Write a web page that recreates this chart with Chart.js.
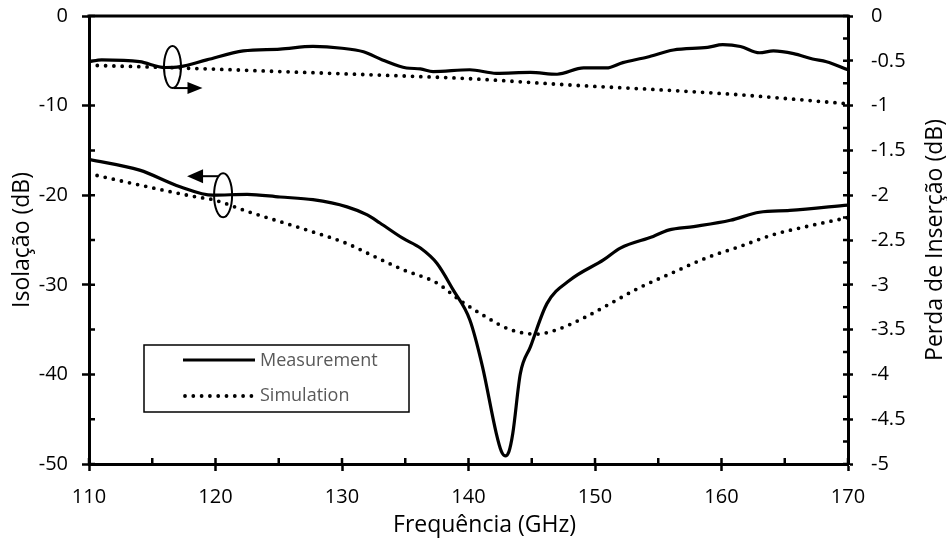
<!DOCTYPE html>
<html>
<head>
<meta charset="utf-8">
<script src="https://cdn.jsdelivr.net/npm/chart.js@4.4.1/dist/chart.umd.min.js"></script>
<style>
    html, body { margin: 0; padding: 0; background: #fff; }
</style>
</head>
<body>
<canvas id="chart" width="947" height="543"></canvas>
<script>
// Isolação (left axis, dB)
const isoMeasFreq = [110, 114, 117.2, 119.8, 122.5, 125.1, 127.7, 130.4, 132.0, 133.0, 134.8, 136.2, 137.5, 138.8, 140.1, 141.1, 142.2, 142.6, 142.9, 143.2, 143.5, 144.1, 144.9, 146.2, 148.0, 150.7, 152.0, 154.6, 155.8, 157.8, 160.7, 163.0, 165.4, 170];
const isoMeas = [-16.0, -17.2, -19.05, -20.0, -19.9, -20.2, -20.5, -21.3, -22.2, -23.1, -24.8, -25.9, -27.6, -30.6, -33.9, -39.1, -46.6, -48.6, -49.1, -48.6, -46.6, -39.9, -36.9, -32.1, -29.5, -27.2, -25.9, -24.6, -23.9, -23.5, -22.8, -21.9, -21.7, -21.1];

const isoSimFreq = [110, 114.6, 118.5, 119.8, 122.5, 125.1, 127.7, 130.4, 132.5, 134.8, 137.5, 139.3, 141.4, 143.3, 145.4, 147.0, 149.1, 151.2, 153.4, 155.9, 158.8, 161.5, 164.1, 166.7, 170];
const isoSim = [-17.6, -19.05, -20.2, -20.5, -21.8, -22.95, -24.1, -25.4, -26.8, -28.3, -29.8, -31.7, -33.6, -35.0, -35.5, -35.0, -33.7, -32.1, -30.4, -28.8, -27.0, -25.7, -24.4, -23.5, -22.5];

// Perda de Inserção (right axis, dB)
const lossMeasFreq = [110, 111, 114, 116, 117.2, 119.3, 122.2, 125.1, 127.7, 130, 131.7, 133.2, 135.1, 136.2, 137.2, 140.1, 142.2, 144.9, 147.0, 149.1, 150.9, 152.2, 154.1, 156.2, 158.9, 160.1, 161.5, 163.0, 164.1, 165.7, 167.2, 168.3, 170];
const lossMeas = [-0.51, -0.49, -0.51, -0.575, -0.565, -0.49, -0.39, -0.37, -0.34, -0.36, -0.40, -0.49, -0.58, -0.59, -0.62, -0.60, -0.64, -0.63, -0.65, -0.58, -0.58, -0.52, -0.46, -0.38, -0.35, -0.32, -0.34, -0.41, -0.39, -0.42, -0.48, -0.51, -0.60];

const lossSimFreq = [110, 117.2, 125.1, 133.0, 140.1, 148.0, 155.9, 161.5, 165.0, 170];
const lossSim = [-0.55, -0.58, -0.62, -0.66, -0.70, -0.77, -0.83, -0.88, -0.92, -0.98];

const seriesNames = ["Measurement", "Simulation"];

function pairs(xs, ys) {
    return xs.map((x, i) => ({ x: x, y: ys[i] }));
}

Chart.defaults.font.family = "'Open Sans', sans-serif";
Chart.defaults.color = "#000";

const FONT_TICK = { size: 20 };
const FONT_TITLE = { size: 23 };

function solid(data, axis) {
    return {
        data: data, yAxisID: axis,
        borderColor: "#000", borderWidth: 3.2,
        pointRadius: 0, cubicInterpolationMode: "monotone", fill: false,
    };
}
function dotted(data, axis) {
    return {
        data: data, yAxisID: axis,
        borderColor: "#000", borderWidth: 3.8,
        borderDash: [0, 8.3], borderCapStyle: "round",
        pointRadius: 0, cubicInterpolationMode: "monotone", fill: false,
    };
}

function isMajor(v, step) {
    return Math.abs(v / step - Math.round(v / step)) < 1e-6;
}

// keep the plot box fixed: axis sizes set by hand, no label overflow padding
function fixWidth(w) {
    return s => {
        s.width = w;
        s.paddingTop = 0;
        s.paddingBottom = 0;
    };
}

// frame, inward ticks, legend box, ellipse markers, titles
const decorations = {
    id: "decorations",
    afterDraw(chart) {
        const { ctx, chartArea: a, scales } = chart;
        ctx.save();
        ctx.strokeStyle = "#000";
        ctx.fillStyle = "#000";

        // top edge of the frame
        ctx.lineWidth = 3;
        ctx.beginPath();
        ctx.moveTo(a.left - 1.5, a.top);
        ctx.lineTo(a.right + 1.5, a.top);
        ctx.stroke();

        // inward tick marks
        ctx.lineWidth = 2.5;
        ctx.beginPath();
        scales.x.ticks.forEach(t => {
            const p = scales.x.getPixelForValue(t.value);
            ctx.moveTo(p, a.bottom);
            ctx.lineTo(p, a.bottom - 6);
        });
        scales.y.ticks.forEach(t => {
            const p = scales.y.getPixelForValue(t.value);
            ctx.moveTo(a.left, p);
            ctx.lineTo(a.left + 6, p);
        });
        scales.y2.ticks.forEach(t => {
            const p = scales.y2.getPixelForValue(t.value);
            ctx.moveTo(a.right, p);
            ctx.lineTo(a.right - 5, p);
        });
        ctx.stroke();

        // legend
        const lx = a.left + 55, ly = a.top + 329;
        ctx.fillStyle = "#fff";
        ctx.fillRect(lx, ly, 265, 67);
        ctx.lineWidth = 1.5;
        ctx.strokeRect(lx, ly, 265, 67);
        ctx.lineWidth = 3.2;
        ctx.setLineDash([]);
        ctx.beginPath();
        ctx.moveTo(lx + 39, ly + 15);
        ctx.lineTo(lx + 111, ly + 15);
        ctx.stroke();
        ctx.setLineDash([0, 8.3]);
        ctx.lineCap = "round";
        ctx.lineWidth = 3.8;
        ctx.beginPath();
        ctx.moveTo(lx + 41, ly + 51);
        ctx.lineTo(lx + 112, ly + 51);
        ctx.stroke();
        ctx.setLineDash([]);
        ctx.lineCap = "butt";
        ctx.fillStyle = "#595959";
        ctx.font = "18px 'Open Sans'";
        ctx.textAlign = "left";
        ctx.textBaseline = "middle";
        ctx.fillText(seriesNames[0], lx + 116, ly + 16);
        ctx.fillText(seriesNames[1], lx + 116, ly + 51);

        // ellipse markers with arrows
        ctx.fillStyle = "#000";
        ctx.lineWidth = 2;
        const ex1 = scales.x.getPixelForValue(116.6), ey1 = scales.y2.getPixelForValue(-0.57);
        ctx.beginPath();
        ctx.ellipse(ex1, ey1, 8.5, 21, 0, 0, Math.PI * 2);
        ctx.stroke();
        ctx.beginPath();
        ctx.moveTo(ex1 + 1, ey1 + 21);
        ctx.lineTo(ex1 + 16, ey1 + 21);
        ctx.stroke();
        ctx.beginPath();
        ctx.moveTo(ex1 + 15, ey1 + 15);
        ctx.lineTo(ex1 + 30, ey1 + 21);
        ctx.lineTo(ex1 + 15, ey1 + 27);
        ctx.closePath();
        ctx.fill();

        const ex2 = scales.x.getPixelForValue(120.6), ey2 = scales.y.getPixelForValue(-20.0);
        ctx.beginPath();
        ctx.ellipse(ex2, ey2, 9, 22, 0, 0, Math.PI * 2);
        ctx.stroke();
        ctx.beginPath();
        ctx.moveTo(ex2 - 5, ey2 - 19);
        ctx.lineTo(ex2 - 21, ey2 - 19);
        ctx.stroke();
        ctx.beginPath();
        ctx.moveTo(ex2 - 20, ey2 - 26);
        ctx.lineTo(ex2 - 36, ey2 - 19);
        ctx.lineTo(ex2 - 20, ey2 - 12);
        ctx.closePath();
        ctx.fill();

        // x axis title (sits a little right of centre, as in the source)
        ctx.font = "23px 'Open Sans'";
        ctx.textAlign = "center";
        ctx.textBaseline = "middle";
        ctx.fillText("Frequência (GHz)", (a.left + a.right) / 2 + 16, 525);

        // right axis title, reading bottom to top
        ctx.translate(935, (a.top + a.bottom) / 2);
        ctx.rotate(-Math.PI / 2);
        ctx.fillText("Perda de Inserção (dB)", 0, 0);
        ctx.restore();
    },
};

const ctx = document.getElementById("chart").getContext("2d");
new Chart(ctx, {
    type: "line",
    data: {
        datasets: [
            solid(pairs(isoMeasFreq, isoMeas), "y"),
            dotted(pairs(isoSimFreq, isoSim), "y"),
            solid(pairs(lossMeasFreq, lossMeas), "y2"),
            dotted(pairs(lossSimFreq, lossSim), "y2"),
        ],
    },
    options: {
        responsive: false,
        animation: false,
        layout: { padding: { top: 16, left: 0, right: 0, bottom: 0 } },
        plugins: {
            legend: { display: false },
            tooltip: { enabled: false },
        },
        scales: {
            x: {
                type: "linear", min: 110, max: 170,
                afterFit: s => { s.height = 79; },
                ticks: {
                    stepSize: 5, autoSkip: false, maxRotation: 0,
                    font: FONT_TICK, padding: 14,
                    callback: v => isMajor(v, 10) ? String(v) : "",
                },
                grid: {
                    drawOnChartArea: false, tickLength: 7, tickWidth: 2.5,
                    tickColor: c => isMajor(c.tick.value, 10) ? "#000" : "rgba(0,0,0,0)",
                },
                border: { color: "#000", width: 3 },
            },
            y: {
                position: "left", min: -50, max: 0,
                afterFit: fixWidth(89),
                ticks: {
                    stepSize: 5, autoSkip: false, font: FONT_TICK, padding: 14,
                    callback: v => isMajor(v, 10) ? String(v) : "",
                },
                grid: {
                    drawOnChartArea: false, tickLength: 7, tickWidth: 2.5,
                    tickColor: c => isMajor(c.tick.value, 10) ? "#000" : "rgba(0,0,0,0)",
                },
                border: { color: "#000", width: 3 },
                title: { display: true, text: "Isolação (dB)", font: FONT_TITLE, padding: { top: 9, bottom: 0 } },
            },
            y2: {
                position: "right", min: -5, max: 0,
                afterFit: fixWidth(99),
                ticks: {
                    stepSize: 0.25, autoSkip: false, font: FONT_TICK, padding: 18,
                    callback: v => isMajor(v, 0.5) ? String(Math.round(v * 10) / 10) : "",
                },
                grid: {
                    drawOnChartArea: false, tickLength: 5, tickWidth: 2.5,
                    tickColor: c => isMajor(c.tick.value, 0.5) ? "#000" : "rgba(0,0,0,0)",
                },
                border: { color: "#000", width: 3 },
            },
        },
    },
    plugins: [decorations],
});
</script>
</body>
</html>
